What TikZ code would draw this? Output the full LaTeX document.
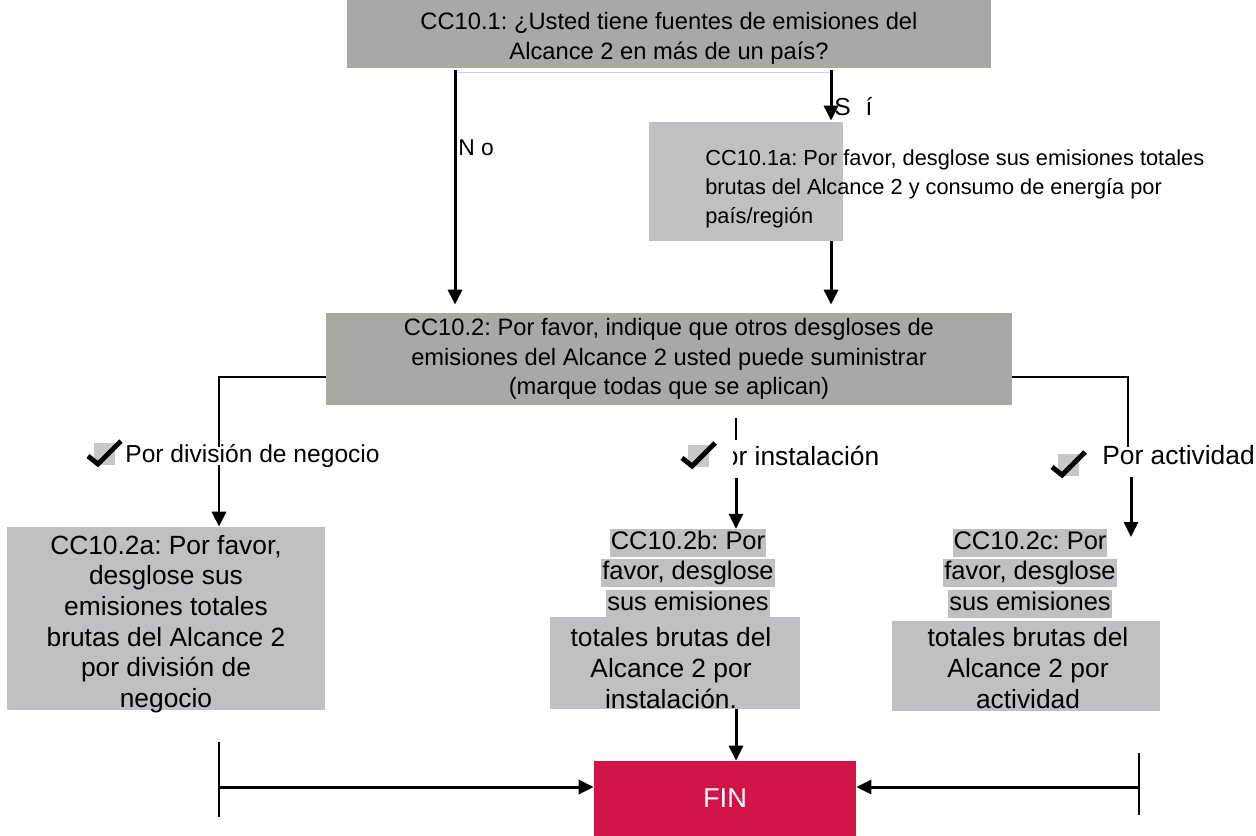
\documentclass[tikz,border=0pt]{standalone}
\usepackage{fontspec}
\setmainfont{Liberation Sans}
\frenchspacing
\usetikzlibrary{calc,arrows.meta}
\definecolor{boxgray}{RGB}{167,169,162}
\definecolor{answergray}{RGB}{190,192,195}
\definecolor{checkgray}{RGB}{200,200,200}
\definecolor{finred}{RGB}{210,19,69}
\def\drawcheck#1{%
  \fill [checkgray] ($(#1)+(-4,-21)$) rectangle ($(#1)+(17,1)$);
  \draw [line width=2.8pt] ($(#1)+(-10,-8)$) -- (#1) -- ($(#1)+(23,-23)$);
}
\tikzset{
  question/.style={fill=boxgray, inner sep=0pt, align=center, font=\fontsize{13.5}{16.8}\selectfont},
  answerbox/.style={fill=answergray, inner sep=0pt},
  answer/.style={inner sep=0pt, align=center, font=\fontsize{15}{17.4}\selectfont},
  hl/.style={fill=answergray, inner xsep=0.5pt, inner ysep=0pt, text height=11.6pt, text depth=4.2pt, font=\fontsize{14.5}{17.4}\selectfont},
  option/.style={inner sep=0pt, anchor=west, font=\fontsize{15}{18}\selectfont},
  yesno/.style={right, inner sep=1pt, font=\fontsize{13}{15}\selectfont},
  arr/.style={line width=1.7pt, -{Triangle[length=0.3cm, width=0.28cm]}},
  link/.style={line width=0.8pt},
}

\begin{document}
\begin{tikzpicture}[x=0.02cm, y=-0.02cm]
  \useasboundingbox (0,0) rectangle (1256,835);

  % questions
  \node [question, minimum width=12.88cm, minimum height=1.36cm, font=\fontsize{13.5}{17.2}\selectfont] (q1) at (669,34) {};
  \node [inner sep=0pt, align=center, font=\fontsize{13.5}{17.2}\selectfont] (t1) at (669,38)
    {CC10.1: ¿Usted tiene fuentes de emisiones del\\Alcance 2 en más de un país?};
  \node [fill=answergray, inner sep=0pt, minimum width=3.88cm, minimum height=2.38cm] (q1a) at (746,181.5) {};
  \node [anchor=west, inner sep=0pt, align=left, font=\fontsize{12.4}{16.4}\selectfont] (t1a) at (705,189)
    {CC10.1a: Por favor, desglose sus emisiones totales\\brutas del Alcance 2 y consumo de energía por\\país/región};
  \node [question, minimum width=13.72cm, minimum height=1.84cm] (q2) at (669,359)
    {CC10.2: Por favor, indique que otros desgloses de\\emisiones del Alcance 2 usted puede suministrar\\(marque todas que se aplican)};

  % options
  \node [option, font=\fontsize{14}{17}\selectfont] (optdiv) at (125,456) {Por división de negocio};
  \node [option] (optinst) at (706,456) {Por instalación};
  \node [option] (optact) at (1102,455) {Por actividad};

  % answers
  \node [answerbox, minimum width=6.36cm, minimum height=3.66cm] (q2a) at (166,618.5) {};
  \node [answer] (t2a) at (166,624)
    {CC10.2a: Por favor,\\desglose sus\\emisiones totales\\brutas del Alcance 2\\por división de\\negocio};
  \node [answerbox, minimum width=5cm, minimum height=1.84cm] (q2b) at (675,663) {};
  \node [answer] (t2b) at (671,668) {totales brutas del\\Alcance 2 por\\instalación.};
  \node [hl] (q2b1) at (688,543) {CC10.2b: Por};
  \node [hl] (q2b2) at (688,573) {favor, desglose};
  \node [hl] (q2b3) at (688,604) {sus emisiones};
  \node [answerbox, minimum width=5.36cm, minimum height=1.8cm] (q2c) at (1026,666) {};
  \node [answer] (t2c) at (1028,668) {totales brutas del\\Alcance 2 por\\actividad};
  \node [hl] (q2c1) at (1030,543) {CC10.2c: Por};
  \node [hl] (q2c2) at (1030,573) {favor, desglose};
  \node [hl] (q2c3) at (1030,604) {sus emisiones};

  \node [fill=finred, inner sep=0pt, minimum width=5.24cm, minimum height=1.5cm, text=white,
    font=\fontsize{15.5}{18}\selectfont] (fin) at (725,798.5) {FIN};

  % yes / no
  \coordinate (noX) at (455,0);
  \coordinate (siX) at (831,0);
  \draw [gray!35, line width=0.6pt] ($(q1.south -| noX)+(0,4)$) -- ($(q1.south -| siX)+(0,4)$);
  \draw [arr] ($(q1.south -| noX)+(0,2)$) -- ($(q2.north -| noX)+(0,-8)$)
    node [yesno, pos=0.33] (lblno) {N o};
  \draw [arr] ($(q1.south -| siX)+(0,2)$) -- ($(q1a.north -| siX)+(0,-1)$)
    node [yesno, pos=0.72, font=\fontsize{14}{16}\selectfont] (lblsi) {S\,\, í};
  \draw [arr] (q1a.south -| siX) -- ($(q2.north -| siX)+(0,-8)$);

  % branches
  \coordinate (brL) at (219,377);
  \coordinate (brM) at ($(q2.south)+(67,13)$);
  \coordinate (brR) at (1128,377);
  \coordinate (endR) at (1131,537);
  \draw [link] (q2.west |- brL) -- (brL) -- ($(brL)+(0,70)$);
  \draw [arr] ($(brL)+(0,88)$) -- (q2a.north -| brL);
  \draw [link] (brM) -- ($(brM)+(0,22)$);
  \draw [arr] ($(brM)+(0,60)$) -- (q2b1.north -| brM);
  \draw [link] (q2.east |- brR) -- (brR) -- ($(brR)+(0,70)$);
  \draw [arr] ($(brR)+(3,100)$) -- (endR);

  % check marks
  \fill [white] (678,436) rectangle (733,474);
  \drawcheck{98,464}
  \drawcheck{692,466}
  \drawcheck{1062,475}

  % to the end
  \coordinate (finL) at (219,787);
  \coordinate (finR) at (1139,787);
  \draw [arr] (q2b.south -| brM) -- (fin.north -| brM);
  \draw [link] ($(finL)+(0,-45)$) -- ($(finL)+(0,30)$);
  \draw [arr] (finL) -- (fin.west |- finL);
  \draw [link] ($(finR)+(0,-34)$) -- ($(finR)+(0,28)$);
  \draw [arr] (finR) -- (fin.east |- finR);
\end{tikzpicture}
\end{document}
